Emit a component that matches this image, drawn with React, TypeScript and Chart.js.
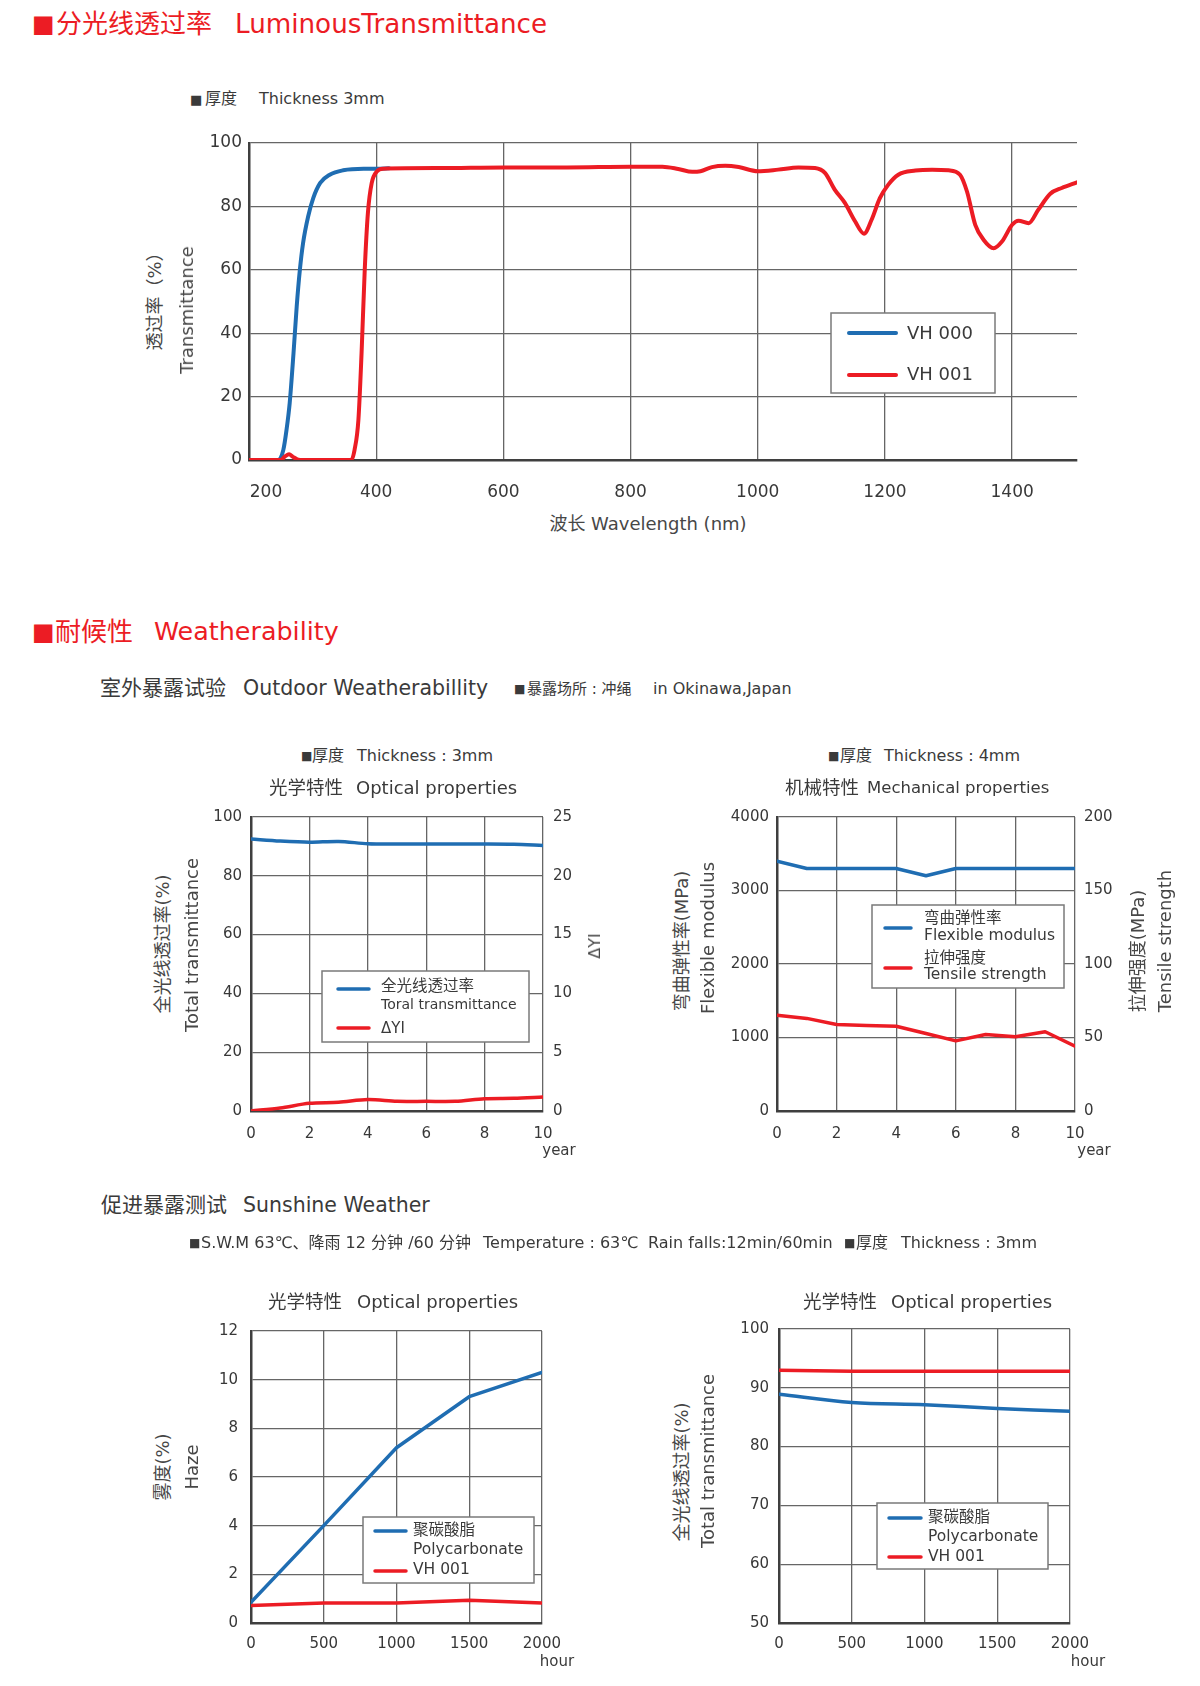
import React, { useEffect, useRef } from 'react';
import { Chart, registerables } from 'chart.js';

Chart.register(...registerables);

const FONT = '"DejaVu Sans", "Noto Sans CJK SC", sans-serif';
const RED = '#ec1c24';
const BLUE = '#1f6db2';
const GRID = '#666666';
const AXIS = '#3f3f3f';
const TICK = '#383838';
const TEXT = '#3a3a3a';
const TITLE = '#474747';

// ---------- Chart 1: spectral transmittance ----------
const SPECTRUM_X_TICKS = [200, 400, 600, 800, 1000, 1200, 1400];
const WAVELENGTH_VH000 = [200, 246, 254, 259, 264, 270, 275, 280, 285, 293, 301, 312, 327, 348, 380, 400, 420];
const TRANSMIT_VH000 = [0, 0, 3.2, 9.5, 18, 33.7, 48.4, 60, 68.4, 76.8, 82.6, 87.4, 90, 91.4, 91.9, 91.9, 92];
const WAVELENGTH_VH001 = [200, 250, 257, 263, 269, 276, 285, 361, 366, 372, 377, 382, 387, 393, 401, 411, 500, 600, 700, 800, 850, 875, 897, 910, 928, 949, 970, 1000, 1032, 1064, 1090, 1106, 1121, 1137, 1153, 1167, 1179, 1192, 1205, 1221, 1248, 1274, 1300, 1318, 1329, 1342, 1355, 1371, 1384, 1400, 1410, 1426, 1441, 1460, 1478, 1502];
const TRANSMIT_VH001 = [0, 0, 1.2, 1.8, 1.0, 0.2, 0, 0, 3.2, 12.6, 33.7, 60, 78, 87.4, 91, 91.9, 92.1, 92.3, 92.3, 92.5, 92.5, 91.8, 90.9, 91.1, 92.4, 92.8, 92.4, 91.1, 91.6, 92.3, 92.1, 90.5, 85.3, 81.1, 75.3, 71.4, 75.8, 82.6, 86.8, 90, 91.3, 91.6, 91.4, 90, 84.7, 74.2, 69.5, 66.8, 68.9, 74.2, 75.5, 74.7, 78.9, 84, 85.8, 87.6];

// ---------- Chart 2: outdoor optical ----------
const YEARS = [0, 1, 2, 3, 4, 5, 6, 7, 8, 9, 10];
const TOTAL_TRANSMITTANCE = [92.5, 91.8, 91.4, 91.7, 90.9, 90.8, 90.8, 90.8, 90.8, 90.7, 90.3];
const DELTA_YI = [0, 0.26, 0.65, 0.74, 0.97, 0.82, 0.82, 0.82, 1.05, 1.08, 1.19];

// ---------- Chart 3: outdoor mechanical ----------
const FLEX_MODULUS = [3400, 3300, 3300, 3300, 3300, 3200, 3300, 3300, 3300, 3300, 3300];
const TENSILE_STRENGTH = [65.2, 63, 58.9, 58.2, 57.7, 52.7, 47.7, 52, 50.5, 53.9, 44.1];

// ---------- Chart 4: sunshine haze ----------
const HOURS = [0, 500, 1000, 1500, 2000];
const HAZE_PC = [0.85, 4.0, 7.2, 9.3, 10.3];
const HAZE_VH001 = [0.72, 0.82, 0.82, 0.93, 0.82];

// ---------- Chart 5: sunshine transmittance ----------
const TT_PC = [88.9, 87.5, 87.1, 86.5, 86.0];
const TT_VH001 = [93.0, 92.8, 92.8, 92.8, 92.8];

const zip = (xs: number[], ys: number[]) => xs.map((x, i) => ({ x, y: ys[i] }));

interface Frame { L: number; T: number; R: number; B: number; padL: number; padR: number; padT: number; padB: number; }

const fixW = (w: number) => (s: any) => { s.width = w; };
const fixH = (h: number) => (s: any) => { s.height = h; };
const plain = (v: any) => String(v);

function xScale(min: number, max: number, step: number, frame: Frame, size: number, pad: number, show = true) {
  return {
    type: 'linear', position: 'bottom', min, max,
    ticks: { stepSize: step, includeBounds: false, display: show, padding: pad, color: TICK, font: { family: FONT, size }, maxRotation: 0, autoSkip: false, callback: plain },
    grid: { color: GRID, lineWidth: 1.3, drawTicks: false },
    border: { display: true, color: AXIS, width: 2.5 },
    afterFit: fixH(frame.padB),
  };
}

function yScale(min: number, max: number, step: number, width: number, size: number, pad: number, position = 'left') {
  const left = position === 'left';
  return {
    type: 'linear', position, min, max,
    ticks: { stepSize: step, padding: pad, color: TICK, font: { family: FONT, size }, callback: plain },
    grid: { display: left, color: GRID, lineWidth: 1.3, drawTicks: false },
    border: { display: left, color: AXIS, width: 2.5 },
    afterFit: fixW(width),
  };
}

function baseOptions(frame: Frame, scales: any, hasY2: boolean) {
  return {
    responsive: false,
    maintainAspectRatio: false,
    animation: false,
    layout: { padding: { top: frame.padT, left: 0, bottom: 0, right: hasY2 ? 0 : frame.padR } },
    plugins: { legend: { display: false }, tooltip: { enabled: false } },
    elements: { point: { radius: 0 } },
    scales,
  };
}

function line(label: string, data: any, color: string, width: number, extra: any = {}) {
  return { label, data, borderColor: color, backgroundColor: color, borderWidth: width, pointRadius: 0, fill: false, borderJoinStyle: 'round', borderCapStyle: 'round', ...extra };
}

interface LegendSpec {
  box: [number, number, number, number];
  lines: { ds: number; y: number; x1: number; x2: number }[];
  texts: { t: string; x: number; y: number; size: number }[];
  lw: number;
}

function legendPlugin(spec: LegendSpec, ox: number, oy: number) {
  return {
    id: 'boxLegend',
    afterDraw(chart: any) {
      const ctx = chart.ctx;
      ctx.save();
      const [x1, y1, x2, y2] = spec.box;
      ctx.fillStyle = '#ffffff';
      ctx.fillRect(x1 - ox, y1 - oy, x2 - x1, y2 - y1);
      ctx.strokeStyle = '#7a7a7a';
      ctx.lineWidth = 1.5;
      ctx.strokeRect(x1 - ox, y1 - oy, x2 - x1, y2 - y1);
      spec.lines.forEach((l) => {
        ctx.strokeStyle = chart.data.datasets[l.ds].borderColor;
        ctx.lineWidth = spec.lw;
        ctx.lineCap = 'round';
        ctx.beginPath();
        ctx.moveTo(l.x1 - ox, l.y - oy);
        ctx.lineTo(l.x2 - ox, l.y - oy);
        ctx.stroke();
      });
      ctx.fillStyle = TEXT;
      ctx.textAlign = 'left';
      ctx.textBaseline = 'middle';
      spec.texts.forEach((t) => {
        ctx.font = `${t.size}px ${FONT}`;
        ctx.fillText(t.t, t.x - ox, t.y - oy);
      });
      ctx.restore();
    },
  };
}

const spectrumXLabels = {
  id: 'spectrumXLabels',
  afterDraw(chart: any) {
    const s = chart.scales.x;
    const ctx = chart.ctx;
    ctx.save();
    ctx.font = `17px ${FONT}`;
    ctx.fillStyle = TICK;
    ctx.textAlign = 'center';
    ctx.textBaseline = 'middle';
    SPECTRUM_X_TICKS.forEach((v, i) => {
      ctx.fillText(String(v), s.getPixelForValue(v) + (i === 0 ? 17 : 0), s.top + 33);
    });
    ctx.restore();
  },
};

function ChartCanvas({ frame, make }: { frame: Frame; make: (ox: number, oy: number) => any }) {
  const ref = useRef<HTMLCanvasElement | null>(null);
  const x = frame.L - frame.padL;
  const y = frame.T - frame.padT;
  const w = frame.R - frame.L + frame.padL + frame.padR;
  const h = frame.B - frame.T + frame.padT + frame.padB;
  useEffect(() => {
    const chart = new Chart(ref.current as HTMLCanvasElement, make(x, y));
    return () => chart.destroy();
  }, []);
  return <canvas ref={ref} width={w} height={h} style={{ position: 'absolute', left: x, top: y, width: w, height: h }} />;
}

// frames
const F1: Frame = { L: 249, T: 143, R: 1077, B: 460, padL: 60, padR: 30, padT: 20, padB: 50 };
const F2: Frame = { L: 251, T: 817, R: 543, B: 1111, padL: 60, padR: 50, padT: 20, padB: 45 };
const F3: Frame = { L: 777, T: 817, R: 1075, B: 1111, padL: 70, padR: 55, padT: 20, padB: 45 };
const F4: Frame = { L: 251, T: 1329, R: 543, B: 1623, padL: 60, padR: 30, padT: 20, padB: 40 };
const F5: Frame = { L: 779, T: 1329, R: 1071, B: 1623, padL: 60, padR: 30, padT: 20, padB: 40 };

const make1 = (ox: number, oy: number) => ({
  type: 'line',
  data: {
    datasets: [
      line('VH 000', zip(WAVELENGTH_VH000, TRANSMIT_VH000), BLUE, 4, { order: 2, cubicInterpolationMode: 'monotone' }),
      line('VH 001', zip(WAVELENGTH_VH001, TRANSMIT_VH001), RED, 4, { order: 1, cubicInterpolationMode: 'monotone' }),
    ],
  },
  options: baseOptions(F1, {
    x: xScale(200, 1502, 200, F1, 17, 24, false),
    y: yScale(0, 100, 20, F1.padL, 17, 7),
  }, false),
  plugins: [
    spectrumXLabels,
    legendPlugin({
      box: [831, 313, 995, 393], lw: 4,
      lines: [{ ds: 0, y: 333, x1: 849, x2: 896 }, { ds: 1, y: 375, x1: 849, x2: 896 }],
      texts: [{ t: 'VH 000', x: 907, y: 334, size: 18 }, { t: 'VH 001', x: 907, y: 375, size: 18 }],
    }, ox, oy),
  ],
});

const make2 = (ox: number, oy: number) => ({
  type: 'line',
  data: {
    datasets: [
      line('全光线透过率 Toral transmittance', zip(YEARS, TOTAL_TRANSMITTANCE), BLUE, 3.5, { yAxisID: 'y', tension: 0.3 }),
      line('ΔYI', zip(YEARS, DELTA_YI), RED, 3.5, { yAxisID: 'y2', tension: 0.3 }),
    ],
  },
  options: baseOptions(F2, {
    x: xScale(0, 10, 2, F2, 15, 14),
    y: yScale(0, 100, 20, F2.padL, 15, 9),
    y2: yScale(0, 25, 5, F2.padR, 15, 10, 'right'),
  }, true),
  plugins: [
    legendPlugin({
      box: [322, 971, 529, 1042], lw: 3.5,
      lines: [{ ds: 0, y: 989, x1: 338, x2: 369 }, { ds: 1, y: 1028, x1: 338, x2: 369 }],
      texts: [
        { t: '全光线透过率', x: 381, y: 987, size: 15.5 },
        { t: 'Toral transmittance', x: 381, y: 1005, size: 14 },
        { t: 'ΔYI', x: 381, y: 1029, size: 15 },
      ],
    }, ox, oy),
  ],
});

const make3 = (ox: number, oy: number) => ({
  type: 'line',
  data: {
    datasets: [
      line('弯曲弹性率 Flexible modulus', zip(YEARS, FLEX_MODULUS), BLUE, 3.5, { yAxisID: 'y' }),
      line('拉伸强度 Tensile strength', zip(YEARS, TENSILE_STRENGTH), RED, 3.5, { yAxisID: 'y2' }),
    ],
  },
  options: baseOptions(F3, {
    x: xScale(0, 10, 2, F3, 15, 14),
    y: yScale(0, 4000, 1000, F3.padL, 15, 8),
    y2: yScale(0, 200, 50, F3.padR, 15, 9, 'right'),
  }, true),
  plugins: [
    legendPlugin({
      box: [872, 905, 1064, 988], lw: 3.5,
      lines: [{ ds: 0, y: 928, x1: 885, x2: 911 }, { ds: 1, y: 968, x1: 885, x2: 911 }],
      texts: [
        { t: '弯曲弹性率', x: 924, y: 919, size: 15.5 },
        { t: 'Flexible modulus', x: 924, y: 936, size: 15.5 },
        { t: '拉伸强度', x: 924, y: 959, size: 15.5 },
        { t: 'Tensile strength', x: 924, y: 975, size: 15.5 },
      ],
    }, ox, oy),
  ],
});

const make4 = (ox: number, oy: number) => ({
  type: 'line',
  data: {
    datasets: [
      line('聚碳酸脂 Polycarbonate', zip(HOURS, HAZE_PC), BLUE, 3.5),
      line('VH 001', zip(HOURS, HAZE_VH001), RED, 3.5),
    ],
  },
  options: baseOptions(F4, {
    x: xScale(0, 2000, 500, F4, 15, 12),
    y: yScale(0, 12, 2, F4.padL, 15, 13),
  }, false),
  plugins: [
    legendPlugin({
      box: [363, 1517, 534, 1583], lw: 3.5,
      lines: [{ ds: 0, y: 1531, x1: 375, x2: 406 }, { ds: 1, y: 1571, x1: 375, x2: 406 }],
      texts: [
        { t: '聚碳酸脂', x: 413, y: 1531, size: 15.5 },
        { t: 'Polycarbonate', x: 413, y: 1550, size: 15.5 },
        { t: 'VH 001', x: 413, y: 1570, size: 15.5 },
      ],
    }, ox, oy),
  ],
});

const make5 = (ox: number, oy: number) => ({
  type: 'line',
  data: {
    datasets: [
      line('聚碳酸脂 Polycarbonate', zip(HOURS, TT_PC), BLUE, 3.5, { tension: 0.35 }),
      line('VH 001', zip(HOURS, TT_VH001), RED, 3.5),
    ],
  },
  options: baseOptions(F5, {
    x: xScale(0, 2000, 500, F5, 15, 12),
    y: yScale(50, 100, 10, F5.padL, 15, 10),
  }, false),
  plugins: [
    legendPlugin({
      box: [877, 1503, 1048, 1569], lw: 3.5,
      lines: [{ ds: 0, y: 1518, x1: 889, x2: 921 }, { ds: 1, y: 1557, x1: 889, x2: 921 }],
      texts: [
        { t: '聚碳酸脂', x: 928, y: 1518, size: 15.5 },
        { t: 'Polycarbonate', x: 928, y: 1537, size: 15.5 },
        { t: 'VH 001', x: 928, y: 1557, size: 15.5 },
      ],
    }, ox, oy),
  ],
});

interface TProps { x: number; y: number; text: string; size: number; color?: string; align?: 'left' | 'center'; rot?: boolean; }
function T({ x, y, text, size, color = TEXT, align = 'left', rot = false }: TProps) {
  const transform = rot ? 'translate(-50%,-50%) rotate(-90deg)' : align === 'center' ? 'translate(-50%,-50%)' : 'translateY(-50%)';
  return (
    <div style={{ position: 'absolute', left: x, top: y, transform, fontSize: size, lineHeight: 1, whiteSpace: 'nowrap', color, fontFamily: FONT }}>
      {text}
    </div>
  );
}

export default function App() {
  return (
    <div style={{ position: 'absolute', left: 0, top: 0, width: 1200, height: 1686, background: '#ffffff', overflow: 'hidden', fontFamily: FONT }}>
      <ChartCanvas frame={F1} make={make1} />
      <ChartCanvas frame={F2} make={make2} />
      <ChartCanvas frame={F3} make={make3} />
      <ChartCanvas frame={F4} make={make4} />
      <ChartCanvas frame={F5} make={make5} />

      {/* Section 1 */}
      <T x={32} y={24} text="■" size={24} color={RED} />
      <T x={56} y={24} text="分光线透过率" size={26} color={RED} />
      <T x={235} y={24} text="LuminousTransmittance" size={26.2} color={RED} />
      <T x={190} y={99} text="■" size={13} />
      <T x={205} y={99} text="厚度" size={16} />
      <T x={259} y={99} text="Thickness 3mm" size={16} />
      <T x={155} y={297} text="透过率（%）" size={18} color={TITLE} rot />
      <T x={187} y={310} text="Transmittance" size={18} color={TITLE} rot />
      <T x={648} y={524} text="波长 Wavelength (nm)" size={18} color={TITLE} align="center" />

      {/* Section 2 */}
      <T x={32} y={632} text="■" size={24} color={RED} />
      <T x={55} y={632} text="耐候性" size={26} color={RED} />
      <T x={154} y={632} text="Weatherability" size={25.4} color={RED} />
      <T x={100} y={688} text="室外暴露试验" size={21} />
      <T x={243} y={688} text="Outdoor Weatherabillity" size={20.5} />
      <T x={514} y={689} text="■" size={12} />
      <T x={527} y={689} text="暴露场所 : 冲绳" size={15} />
      <T x={653} y={689} text="in Okinawa,Japan" size={16} />

      <T x={301} y={756} text="■" size={12} />
      <T x={312} y={756} text="厚度" size={16} />
      <T x={357} y={756} text="Thickness : 3mm" size={16} />
      <T x={269} y={788} text="光学特性" size={18.5} />
      <T x={356} y={788} text="Optical properties" size={18} />

      <T x={828} y={756} text="■" size={12} />
      <T x={840} y={756} text="厚度" size={16} />
      <T x={884} y={756} text="Thickness : 4mm" size={16} />
      <T x={785} y={788} text="机械特性" size={18.5} />
      <T x={867} y={788} text="Mechanical properties" size={16.5} />

      <T x={163} y={944} text="全光线透过率(%)" size={18} color={TITLE} rot />
      <T x={192} y={945} text="Total transmittance" size={18} color={TITLE} rot />
      <T x={595} y={946} text="ΔYI" size={16} color={TITLE} rot />
      <T x={559} y={1150} text="year" size={15} align="center" />

      <T x={682} y={941} text="弯曲弹性率(MPa)" size={18} color={TITLE} rot />
      <T x={708} y={938} text="Flexible modulus" size={18} color={TITLE} rot />
      <T x={1138} y={951} text="拉伸强度(MPa)" size={18} color={TITLE} rot />
      <T x={1165} y={941} text="Tensile strength" size={18} color={TITLE} rot />
      <T x={1094} y={1150} text="year" size={15} align="center" />

      {/* Section 3 */}
      <T x={101} y={1205} text="促进暴露测试" size={21} />
      <T x={243} y={1205} text="Sunshine Weather" size={20.5} />
      <T x={189} y={1243} text="■" size={12} />
      <T x={201} y={1243} text="S.W.M 63℃、降雨 12 分钟 /60 分钟" size={16} />
      <T x={483} y={1243} text="Temperature : 63℃" size={16} />
      <T x={648} y={1243} text="Rain falls:12min/60min" size={16} />
      <T x={844} y={1243} text="■" size={12} />
      <T x={856} y={1243} text="厚度" size={16} />
      <T x={901} y={1243} text="Thickness : 3mm" size={16} />

      <T x={268} y={1302} text="光学特性" size={18.5} />
      <T x={357} y={1302} text="Optical properties" size={18} />
      <T x={803} y={1302} text="光学特性" size={18.5} />
      <T x={891} y={1302} text="Optical properties" size={18} />

      <T x={163} y={1467} text="雾度(%)" size={18} color={TITLE} rot />
      <T x={192} y={1467} text="Haze" size={18} color={TITLE} rot />
      <T x={557} y={1661} text="hour" size={15} align="center" />

      <T x={682} y={1472} text="全光线透过率(%)" size={18} color={TITLE} rot />
      <T x={708} y={1461} text="Total transmittance" size={18} color={TITLE} rot />
      <T x={1088} y={1661} text="hour" size={15} align="center" />
    </div>
  );
}
